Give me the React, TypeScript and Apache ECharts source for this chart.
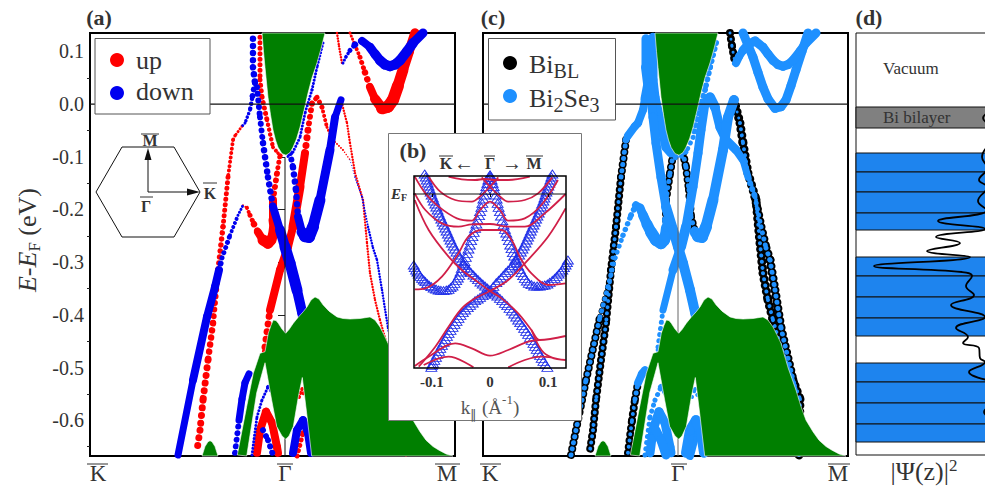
import React, { useEffect, useRef } from "react";
import * as echarts from "echarts";

const SERIF = "Liberation Serif";
const RED = "#ff0000";
const BLUE = "#0000f0";
const SKY = "#1e90ff";
const GREEN = "#007f00";
const CRIMSON = "#d01f48";
const INK = "#333333";

// Rows: [k, E (eV), width in (a), black width in (c), blue width in (c)]
type Row = number[];
const upBands: Row[][] = [
  [[-42,-.192,2,0,8],[-38,-.197,4,0,9],[-35,-.211,5,0,10],[-31,-.228,6.5,0,11],[-27,-.243,8,0,12],[-22,-.258,11,0,12],[-17,-.264,11,0,12],[-14,-.258,10,0,12],[-12,-.249,10,0,12],[-11,-.235,9,0,8],[-12,-.220,8,8,5],[-12,-.182,6,8,5],[-8,-.131,5,8,5],[-5,-.097,4,8,4],[-2,-.098,3,8,4]],
  [[-43,-.042,3,0,8],[-50,-.060,3.5,2,7],[-52,-.068,4,8,5],[-57,-.139,5,8,4],[-62,-.233,5.5,8,4],[-67,-.315,6,8,4],[-72,-.416,6.5,8,4],[-77,-.486,7,8,4],[-82,-.562,7,8,4],[-85,-.619,7,8,4],[-88,-.657,7,8,4]],
  [[-25,.127,5,0,9],[-25,.046,5,0,9],[-23,.013,5,0,9],[-18,-.030,4.5,0,9],[-12,-.082,4,0,9],[-7,-.093,3.5,0,6],[-2,-.101,3,0,4]],
  [[52,.135,2.5,8,3],[54,.110,2.5,8,3],[57,.078,2.5,8,3]],
  [[65,.135,3,0,9],[70,.112,4,0,9],[75,.089,5,0,9],[80,.060,6.5,0,9],[85,.032,8,0,9],[90,.010,10,0,9],[97,-.008,12,0,9],[103,-.005,12,0,9],[108,.008,12,0,9],[113,.035,11,0,9],[118,.065,10,0,9],[124,.100,9.5,0,9],[130,.135,9,0,9]],
  [[56,.008,2.4,9,3],[62,-.036,2.4,9,4],[65,-.074,2.4,9,4],[70,-.131,2.4,9,4],[78,-.182,2.4,9,4],[82,-.264,2.4,9,4],[85,-.321,2.4,9,4],[90,-.372,2.4,9,4],[95,-.410,2.4,9,4],[102,-.457,2.4,9,4],[122,-.560,2.4,9,4],[121,-.668,2.4,7,0]],
  [[-22,-.490,5,0,4],[-20,-.461,7,0,5],[-15,-.391,8,0,7],[-5,-.315,8,0,9],[3,-.271,8,0,10],[8,-.233,9,0,9],[15,-.157,8,0,9],[20,-.093,7,0,9],[23,-.049,6,0,9],[27,.002,5,0,9],[32,.013,5,0,10],[37,-.006,4,0,9],[42,-.044,3,0,9],[48,-.068,2,0,9],[58,-.087,1.5,0,8],[65,-.106,1.2,0,7]],
  [[-28,-.662,8,0,9],[-25,-.619,8,0,9],[-19,-.584,8,0,9],[-13,-.605,8,0,9],[-8,-.651,8,0,9],[-7,-.662,8,0,9]],
  [[12,-.668,5,0,8],[18,-.624,5,0,8],[20,-.609,5,0,8]],
  [[14,-.556,4,0,4],[17,-.541,4,0,4],[20,-.556,4,0,4]],
];
const downBands: Row[][] = [
  [[-107,-.666,7,8,5],[-92,-.524,8,8,5],[-78,-.404,8,6,5],[-70,-.347,8,0,5],[-66,-.315,6,0,5],[-63,-.292,5,0,5],[-55,-.249,4,0,5.5],[-47,-.211,3,0,6],[-42,-.192,2,0,8]],
  [[-30,.040,6,0,9],[-33,.010,4.5,0,8],[-35,-.011,3.5,0,8],[-40,-.036,3,0,8],[-43,-.042,2.5,0,8]],
  [[-32,.124,6.5,0,9],[-32,.070,6.5,0,10],[-30,.040,6.5,0,10]],
  [[-30,.040,5.5,0,9],[-28,.032,6,0,9],[-25,-.025,6,0,9],[-22,-.074,6.5,0,9],[-17,-.139,6.5,0,9],[-12,-.195,8,0,10],[-5,-.239,10,0,10],[0,-.271,11,0,10],[5,-.302,11,0,10],[12,-.353,10,0,10],[17,-.395,10,0,10],[20,-.419,8,0,8]],
  [[38,.116,3,0,6],[32,.070,3,0,6],[27,.027,3,0,6],[20,-.017,3,0,6],[15,-.063,3,0,5],[8,-.091,3,0,5],[2,-.101,3,0,4]],
  [[5,-.093,6,8,5],[8,-.120,6.5,8,5],[11,-.163,6.5,8,5],[13,-.214,8,8,5],[17,-.243,11,0,11],[20,-.251,12,0,12],[24,-.252,12,0,12],[28,-.233,11,0,11],[35,-.182,9,0,10],[45,-.087,8,0,10],[50,-.025,7,0,10],[56,.008,6,0,9]],
  [[58,.078,3,0,8],[61,.090,3.5,0,8],[65,.102,5,0,9],[70,.113,6.5,0,9],[77,.120,8,0,9],[85,.108,9,0,9],[90,.095,9.5,0,9],[95,.083,10,0,9],[100,.075,10,0,9],[105,.072,10,0,9],[110,.075,10,0,9],[115,.083,10,0,9],[122,.100,10,0,9],[128,.116,9,0,9],[138,.135,9,0,9]],
  [[65,-.106,1,0,7],[70,-.139,1.5,5,6],[77,-.176,2,9,5],[83,-.233,2.5,9,5],[88,-.273,2.5,9,5],[92,-.296,2.5,9,5],[97,-.353,2.5,9,5],[103,-.425,2.5,9,5],[117,-.540,2.5,9,5]],
  [[-50,-.662,6,8,4],[-46,-.600,7,8,4],[-43,-.560,7,8,5],[-40,-.529,7,0,8],[-36,-.512,6,0,8],[-33,-.505,5,0,7]],
  [[-33,-.666,3,0,5],[-28,-.594,3,0,5],[-23,-.562,3,0,5],[-17,-.537,4,0,6],[-12,-.548,5,0,6]],
  [[-22,-.619,6,0,9],[-17,-.638,6,0,9],[-12,-.666,6,0,9]],
  [[8,-.662,8,0,10],[12,-.619,8,0,10],[18,-.600,8,0,10],[23,-.624,8,0,10],[26,-.662,8,0,10]],
];
const bowl = [[-23,.135],[-21.5,.100],[-20,.070],[-17,.013],[-14.5,-.020],[-12,-.049],[-9.5,-.068],[-7,-.082],[-3,-.094],[1,-.097],[5,-.092],[8,-.082],[11.5,-.066],[15,-.044],[19,-.012],[23,.021],[27,.050],[32,.078],[36,.105],[40,.135]];
const valence = [[-47.7,-.666],[-38.3,-.574],[-31.7,-.511],[-25,-.473],[-20,-.470],[-16.7,-.435],[-14,-.420],[-11.7,-.410],[-9,-.411],[-6.7,-.416],[-3,-.427],[.7,-.435],[4,-.428],[8.3,-.416],[13,-.405],[18.3,-.394],[22,-.385],[26,-.372],[30,-.366],[34,-.370],[38,-.381],[44,-.393],[52,-.404],[58,-.407],[65,-.408],[75,-.407],[85,-.404],[90,-.410],[95,-.423],[99,-.438],[103,-.454],[110,-.500],[118,-.543],[123,-.574],[128,-.600],[135,-.622],[141,-.638],[148,-.650],[154,-.657],[161,-.664],[168,-.668],[26.7,-.668],[21.7,-.587],[17.3,-.519],[13.3,-.556],[8.3,-.612],[4,-.630],[.7,-.636],[-3,-.630],[-8.3,-.612],[-13.3,-.562],[-20,-.491],[-28.3,-.548],[-38.3,-.668]];
const hump = [[-83,-.668],[-80,-.650],[-77,-.641],[-75,-.639],[-73,-.641],[-70,-.650],[-67,-.668]];
const energyTicks = [.1,0,-.1,-.2,-.3,-.4,-.5,-.6];
const energyMinor = [.05,-.05,-.15,-.25,-.35,-.45,-.55,-.65];

// Inset, read as [k * 1750, E * 1500]
const insetTriangles: number[][][] = [
  [[-197,60],[-194,51],[-191,42],[-188,33],[-185,24],[-182,15],[-179,6],[-176,-3],[-172,-12],[-169,-21],[-165,-30],[-162,-39],[-158,-48],[-155,-57],[-151,-66],[-147,-75],[-143,-84],[-139,-93],[-135,-102],[-131,-111],[-127,-120],[-123,-129],[-119,-138],[-115,-147],[-110,-156],[-106,-165],[-101,-174],[-96,-183],[-91,-192],[-86,-200],[-81,-208],[-75,-215],[-69,-222],[-63,-229],[-57,-236],[-50,-243],[-43,-250],[-36,-257],[-29,-264],[-22,-270],[-15,-276],[-8,-282],[0,-288],[8,-294],[15,-300],[22,-306],[30,-313],[37,-320],[45,-328],[52,-335],[59,-343],[66,-351],[73,-360],[79,-369],[85,-378],[91,-386],[97,-395],[103,-403],[109,-412],[115,-421],[121,-430],[126,-439],[131,-448],[136,-457],[141,-466],[146,-475],[151,-484],[156,-493],[161,-502],[167,-511],[173,-520]],
  [[188,60],[185,51],[182,42],[179,33],[176,24],[173,15],[170,6],[167,-3],[164,-12],[161,-21],[157,-30],[154,-39],[150,-48],[147,-57],[143,-66],[139,-75],[135,-84],[131,-93],[127,-102],[123,-111],[119,-120],[115,-129],[111,-138],[107,-147],[102,-156],[98,-165],[93,-174],[88,-183],[83,-192],[78,-200],[73,-208],[67,-215],[61,-222],[54,-229],[47,-236],[40,-244],[33,-252],[26,-259],[19,-266],[10,-277],[0,-288],[-8,-294],[-15,-300],[-22,-305],[-30,-310],[-37,-315],[-45,-320],[-52,-327],[-60,-334],[-67,-341],[-75,-348],[-82,-356],[-89,-364],[-95,-373],[-101,-382],[-107,-391],[-113,-400],[-119,-409],[-125,-418],[-130,-427],[-135,-436],[-140,-445],[-145,-454],[-150,-463],[-154,-472],[-159,-481],[-163,-490],[-168,-499],[-172,-508],[-175,-514],[-177,-520]],
  [[-230,-213],[-227,-221],[-223,-228],[-219,-234],[-215,-240],[-210,-247],[-205,-253],[-200,-258],[-195,-263],[-189,-269],[-183,-274],[-177,-278],[-170,-282],[-163,-285],[-155,-288],[-148,-289],[-140,-290],[-132,-288],[-125,-286],[-119,-281],[-113,-276],[-107,-268],[-102,-260],[-97,-252],[-93,-244],[-89,-234],[-85,-223],[-81,-213],[-77,-203],[-73,-190],[-69,-178],[-65,-165],[-61,-153],[-57,-140],[-53,-128],[-49,-115],[-45,-103],[-41,-90],[-37,-78],[-33,-65],[-30,-53],[-26,-40],[-23,-28],[-20,-15],[-17,-3],[-14,10],[-11,22],[-8,32],[-5,42],[-2,50],[0,57]],
  [[235,-198],[232,-206],[228,-213],[223,-221],[218,-228],[213,-234],[207,-240],[201,-247],[195,-253],[188,-259],[180,-265],[173,-270],[165,-273],[158,-275],[150,-276],[142,-276],[133,-276],[125,-272],[117,-268],[111,-261],[105,-253],[100,-245],[95,-236],[90,-226],[85,-216],[81,-206],[77,-196],[73,-186],[69,-176],[65,-164],[61,-153],[57,-140],[53,-128],[49,-117],[45,-106],[41,-93],[37,-80],[33,-66],[30,-53],[26,-40],[23,-28],[20,-15],[17,-3],[14,10],[11,22],[8,32],[5,42],[2,50],[0,57]],
];
const insetLines: number[][][] = [
  [[-125,52],[-85,44],[-45,42],[-15,45],[15,42],[55,42],[120,52]],
  [[-185,52],[-150,7],[-105,-18],[-55,-23],[-25,-3],[0,22],[25,50]],
  [[188,50],[145,2],[105,-18],[55,-23],[25,-3],[0,22],[-25,50]],
  [[-227,52],[-195,2],[-155,-38],[-100,-73],[-55,-80],[-30,-48],[0,-23],[30,-48],[55,-80],[105,-73],[155,-33],[205,42]],
  [[-227,2],[-195,-48],[-145,-88],[-95,-98],[-55,-91],[0,-90],[55,-98],[105,-98],[165,-58],[228,0]],
  [[-227,-286],[-195,-283],[-145,-248],[-95,-178],[-65,-128],[-25,-108],[35,-108],[65,-138],[95,-198],[125,-238],[175,-273],[228,-268]],
  [[-227,-18],[-185,-108],[-125,-188],[-85,-228],[-45,-258],[0,-291],[35,-313],[85,-358],[125,-408],[150,-438],[228,-426]],
  [[228,-43],[175,-128],[105,-208],[55,-258],[0,-291],[-45,-313],[-85,-343],[-125,-398],[-165,-458],[-215,-518]],
  [[125,-408],[155,-468],[185,-490],[228,-498]],
  [[-227,-516],[-185,-488],[-105,-448],[-55,-463],[0,-485],[55,-468],[115,-443],[150,-438]],
  [[-200,-513],[-125,-488],[-50,-520]],
  [[55,-520],[105,-498],[155,-488],[185,-490]],
];
const insetTicks = [-.1,0,.1];

// Panel (d): depth below the top of the slab, and |psi|^2 measured from the left
const greyLayer = [[74,95]];
const quintupleLayers = [[120,139],[139,159],[159,180],[180,197],[224,243],[243,264],[264,285],[285,303],[330,349],[349,370],[370,391],[391,409]];
const waveMain = [[131,114],[126,124],[131,135],[123,147],[131,154],[122,168],[131,177],[82,188],[129,196],[80,204],[104,210],[71,218],[114,224],[18,233],[106,239],[116,243],[110,253],[118,262],[95,272],[129,284],[100,295],[112,304],[107,310],[123,315],[124,325],[129,329],[113,339],[131,347]];
const waveTop = [[131,80],[127,85],[131,90]];
const waveLow = [[131,375],[128,379],[131,383]];

const toInset = (p: number[]) => [p[0] / 1750, p[1] / 1500];

function bandSeries(name: string, bands: Row[][], col: number, color: string, axis: number, gapOf: (w: number) => number) {
  const segs: number[][] = [];
  bands.forEach((b) => {
    for (let i = 0; i < b.length - 1; i++) {
      if (b[i][col] > 0) segs.push([b[i][0], b[i][1], b[i + 1][0], b[i + 1][1], b[i][col]]);
    }
  });
  return {
    type: "custom", name, coordinateSystem: "cartesian2d", xAxisIndex: axis, yAxisIndex: axis === 0 ? 0 : 2,
    z: 2, silent: true, clip: false, data: segs, encode: { x: [0, 2], y: [1, 3] },
    renderItem: (_p: any, api: any) => {
      const a = api.coord([api.value(0), api.value(1)]);
      const b = api.coord([api.value(2), api.value(3)]);
      const w = api.value(4);
      const gap = gapOf(w);
      return {
        type: "line",
        shape: { x1: a[0], y1: a[1], x2: b[0], y2: b[1] },
        style: { stroke: color, lineWidth: w, lineCap: "round", lineDash: gap > 0 ? [0.01, gap] : null, fill: null },
      };
    },
  };
}
function polySeries(points: number[][], axis: number) {
  return {
    type: "custom", coordinateSystem: "cartesian2d", xAxisIndex: axis, yAxisIndex: axis === 0 ? 0 : 2,
    z: 3, silent: true, clip: false, data: points, encode: { x: 0, y: 1 },
    renderItem: (p: any, api: any) =>
      p.dataIndex === 0
        ? { type: "polygon", shape: { points: points.map((q) => api.coord(q)) }, style: { fill: GREEN, stroke: "#ffffff", lineWidth: 0.6 } }
        : null,
  };
}
function refLine(points: number[][], axis: number, color: string, w: number, z: number, yAxisIndex?: number) {
  return {
    type: "line", xAxisIndex: axis, yAxisIndex: yAxisIndex ?? (axis === 0 ? 0 : 2), data: points, z, silent: true, clip: false,
    symbol: "none", lineStyle: { color, width: w },
  };
}
const layerSeries = (rows: number[][], fill: string) => ({
  type: "custom", coordinateSystem: "cartesian2d", xAxisIndex: 3, yAxisIndex: 4, z: 2, silent: true, data: rows, encode: { y: [0, 1] },
  renderItem: (_p: any, api: any) => {
    const a = api.coord([0, api.value(0)]);
    const b = api.coord([145, api.value(1)]);
    return { type: "rect", shape: { x: a[0], y: a[1], width: b[0] - a[0], height: b[1] - a[1] }, style: { fill, stroke: "#111111", lineWidth: 1 } };
  },
});
const waveSeries = (pts: number[][]) => ({
  type: "line", xAxisIndex: 3, yAxisIndex: 4, data: pts, z: 4, silent: true, symbol: "none", smooth: 0.45,
  lineStyle: { color: "#000000", width: 1.8 },
});

const T = (x: number, y: number, text: string, o: any = {}) => ({
  type: "text", x, y, z: o.z ?? 6, silent: true,
  style: { text, fontFamily: SERIF, fontSize: o.size ?? 20, fontWeight: o.weight ?? "normal", fontStyle: o.italic ? "italic" : "normal", fill: o.fill ?? INK, align: o.align ?? "center", verticalAlign: "middle", rich: o.rich },
});
const L = (x1: number, y1: number, x2: number, y2: number, o: any = {}) => ({
  type: "line", z: o.z ?? 6, silent: true, shape: { x1, y1, x2, y2 }, style: { stroke: o.color ?? INK, lineWidth: o.w ?? 1 },
});

const graphics: any[] = [
  T(99, 17, "(a)", { size: 22, weight: "bold" }),
  T(493, 17, "(c)", { size: 22, weight: "bold" }),
  T(869, 17, "(d)", { size: 22, weight: "bold" }),
  // legend (a)
  { type: "rect", z: 5, silent: true, shape: { x: 95, y: 38.5, width: 115, height: 75.5 }, style: { fill: "#fff", stroke: "#555", lineWidth: 1 } },
  { type: "circle", z: 6, silent: true, shape: { cx: 117, cy: 60, r: 7 }, style: { fill: RED } },
  { type: "circle", z: 6, silent: true, shape: { cx: 117, cy: 93, r: 7 }, style: { fill: BLUE } },
  T(136, 60, "up", { size: 26, align: "left" }),
  T(136, 91, "down", { size: 26, align: "left" }),
  // Brillouin zone
  { type: "polygon", z: 6, silent: true, shape: { points: [[122,147],[174,147],[200,192],[174,237],[122,237],[96,192]] }, style: { fill: "none", stroke: "#111", lineWidth: 1 } },
  L(148, 192, 148, 158, { color: "#111" }),
  L(148, 192, 189, 192, { color: "#111" }),
  { type: "polygon", z: 6, silent: true, shape: { points: [[148,148],[144.5,160],[151.5,160]] }, style: { fill: "#111" } },
  { type: "polygon", z: 6, silent: true, shape: { points: [[200,192],[187,188.5],[187,195.5]] }, style: { fill: "#111" } },
  T(150, 140, "M", { size: 16, weight: "bold" }), L(141, 134, 159, 134),
  T(210, 193, "K", { size: 16, weight: "bold" }), L(203, 183, 217, 183),
  T(146, 206, "Γ", { size: 16, weight: "bold" }), L(140, 197, 153, 197),
  // bottom overlines
  L(87, 464, 108, 464), L(277, 464, 293, 464), L(435, 464, 460, 464),
  L(480, 464, 501, 464), L(671, 464, 687, 464), L(828, 464, 850, 464),
  // legend (c)
  { type: "rect", z: 5, silent: true, shape: { x: 488.5, y: 38.5, width: 127, height: 81.5 }, style: { fill: "#fff", stroke: "#555", lineWidth: 1 } },
  { type: "circle", z: 6, silent: true, shape: { cx: 510, cy: 63, r: 7 }, style: { fill: "#000" } },
  { type: "circle", z: 6, silent: true, shape: { cx: 510, cy: 96, r: 7 }, style: { fill: SKY } },
  T(529, 64, "{m|Bi}{s|BL}", { align: "left", rich: { m: { fontFamily: SERIF, fontSize: 26, fill: INK, lineHeight: 34 }, s: { fontFamily: SERIF, fontSize: 20, fill: INK, verticalAlign: "bottom", lineHeight: 34 } } }),
  T(529, 98, "{m|Bi}{s|2}{m|Se}{s|3}", { align: "left", rich: { m: { fontFamily: SERIF, fontSize: 26, fill: INK, lineHeight: 34 }, s: { fontFamily: SERIF, fontSize: 20, fill: INK, verticalAlign: "bottom", lineHeight: 34 } } }),
  // inset
  { type: "rect", z: 10, silent: true, shape: { x: 388.5, y: 133.5, width: 193, height: 287 }, style: { fill: "#fff", stroke: "#777", lineWidth: 1 } },
  T(413, 150, "(b)", { size: 22, weight: "bold", z: 14 }),
  T(446, 163, "K", { size: 16, weight: "bold", z: 14 }), L(439, 156, 453, 156, { z: 14 }),
  T(464, 163, "←", { size: 20, z: 14 }),
  T(490, 163, "Γ", { size: 16, weight: "bold", z: 14 }), L(484, 156, 495, 156, { z: 14 }),
  T(512, 163, "→", { size: 20, z: 14 }),
  T(534, 163, "M", { size: 16, weight: "bold", z: 14 }), L(526, 156, 543, 156, { z: 14 }),
  T(399, 194, "{i|E}{s|F}", { z: 14, rich: { i: { fontFamily: SERIF, fontSize: 15, fontStyle: "italic", fontWeight: "bold", fill: INK, lineHeight: 16 }, s: { fontFamily: SERIF, fontSize: 10, fontWeight: "bold", fill: INK, verticalAlign: "bottom", lineHeight: 16 } } }),
  T(490, 407, "{m|k}{s|∥}{m| (Å}{u|-1}{m|)}", { z: 14, rich: { m: { fontFamily: SERIF, fontSize: 19, fill: "#555", lineHeight: 28 }, s: { fontFamily: SERIF, fontSize: 13, fill: "#555", verticalAlign: "bottom", lineHeight: 28 }, u: { fontFamily: SERIF, fontSize: 13, fill: "#555", verticalAlign: "top", lineHeight: 28 } } }),
  // panel (d)
  T(883, 68, "Vacuum", { size: 17, align: "left" }),
  T(883, 117, "Bi bilayer", { size: 17, align: "left" }),
  T(924, 471, "{m||Ψ(z)|}{u|2}", { rich: { m: { fontFamily: SERIF, fontSize: 26, fill: INK, lineHeight: 28 }, u: { fontFamily: SERIF, fontSize: 17, fill: INK, verticalAlign: "top", lineHeight: 28 } } }),
];

const hideAxis = { axisLine: { show: false }, axisTick: { show: false }, axisLabel: { show: false }, splitLine: { show: false } };
const kAxis = (gridIndex: number, custom: number[], names: string[]) => ({
  type: "value", gridIndex, min: -195, max: 170, axisLine: { show: false }, axisTick: { show: false }, splitLine: { show: false },
  axisLabel: { show: true, customValues: custom, margin: 8, lineHeight: 19, fontFamily: SERIF, fontSize: 23, color: INK, formatter: (v: number) => names[custom.indexOf(v)] ?? "" },
});
const eRange = { min: -0.668, max: 0.135 };
const gridBase = { show: true, backgroundColor: "transparent", outerBoundsMode: "none" };

const option: any = {
  animation: false,
  backgroundColor: "#ffffff",
  grid: [
    { ...gridBase, left: 90, top: 33, width: 365, height: 423, borderColor: "#000", borderWidth: 2 },
    { ...gridBase, left: 483, top: 33, width: 365, height: 423, borderColor: "#000", borderWidth: 2 },
    { ...gridBase, left: 414, top: 176, width: 152, height: 192, borderColor: "#000", borderWidth: 1.5, z: 13 },
    { ...gridBase, left: 856, top: 33, width: 145, height: 422, borderColor: "#111", borderWidth: 1 },
  ],
  xAxis: [
    kAxis(0, [-187, 0, 162], ["K", "Γ", "M"]),
    kAxis(1, [-188, 0, 160], ["K", "Γ", "M"]),
    {
      type: "value", gridIndex: 2, min: -0.131, max: 0.131, z: 14, splitLine: { show: false }, axisLine: { show: false },
      axisTick: { show: true, customValues: insetTicks, length: 3, lineStyle: { color: "#000" } },
      axisLabel: { show: true, customValues: insetTicks, margin: 6, fontFamily: SERIF, fontSize: 15, fontWeight: "bold", color: INK, formatter: (v: number) => (v === 0 ? "0" : v.toFixed(1)) },
    },
    { type: "value", gridIndex: 3, min: 0, max: 145, ...hideAxis },
  ],
  yAxis: [
    {
      type: "value", gridIndex: 0, ...eRange, position: "left", splitLine: { show: false },
      axisLine: { show: false },
      axisTick: { show: true, customValues: energyTicks, length: 7, lineStyle: { color: "#222", width: 1 } },
      axisLabel: { show: true, customValues: energyTicks, margin: 6, fontFamily: SERIF, fontSize: 20, color: INK, formatter: (v: number) => v.toFixed(1) },
      name: "{i|E}{m|-}{i|E}{s|F}{m| (eV)}", nameLocation: "middle", nameGap: 47, nameRotate: 90,
      nameTextStyle: { padding: [0, 0, 0, 9], rich: { m: { fontFamily: SERIF, fontSize: 26, color: INK, lineHeight: 32 }, i: { fontFamily: SERIF, fontSize: 26, fontStyle: "italic", color: INK, lineHeight: 32 }, s: { fontFamily: SERIF, fontSize: 17, color: INK, verticalAlign: "bottom", lineHeight: 32 } } },
    },
    {
      type: "value", gridIndex: 0, ...eRange, position: "left", splitLine: { show: false }, axisLine: { show: false },
      axisTick: { show: true, customValues: energyMinor, length: 3, lineStyle: { color: "#222", width: 1 } }, axisLabel: { show: false },
    },
    { type: "value", gridIndex: 1, ...eRange, ...hideAxis },
    { type: "value", gridIndex: 2, min: -0.348, max: 0.036, ...hideAxis },
    { type: "value", gridIndex: 3, min: 0, max: 422, inverse: true, ...hideAxis },
  ],
  series: [
    // (a)
    refLine([[0, -0.101], [0, -0.668]], 0, "#111", 1, 2),
    bandSeries("up", upBands, 2, RED, 0, (w) => (w >= 7.5 ? 0 : Math.max(w * 1.1, 2.8))),
    bandSeries("down", downBands, 2, BLUE, 0, (w) => (w >= 7 ? 0 : Math.max(w * 1.1, 2.8))),
    polySeries(bowl, 0), polySeries(valence, 0), polySeries(hump, 0),
    refLine([[-195, 0], [170, 0]], 0, "#111", 1.2, 4),
    // (c)
    refLine([[0, -0.101], [0, -0.668]], 1, "#666", 1, 2),
    bandSeries("BiBL up", upBands, 3, "#000", 1, () => 6.2),
    bandSeries("BiBL down", downBands, 3, "#000", 1, () => 6.2),
    bandSeries("Bi2Se3 up", upBands, 4, SKY, 1, (w) => (w >= 7 ? 0 : 6.2)),
    bandSeries("Bi2Se3 down", downBands, 4, SKY, 1, (w) => (w >= 7 ? 0 : 6.2)),
    polySeries(bowl, 1), polySeries(valence, 1), polySeries(hump, 1),
    refLine([[-195, 0], [170, 0]], 1, "#111", 1.2, 4),
    // (b)
    ...insetTriangles.map((c) => ({
      type: "scatter", xAxisIndex: 2, yAxisIndex: 3, z: 11, silent: true, clip: false, symbol: "triangle", symbolSize: [11, 8],
      data: c.map(toInset), itemStyle: { color: "rgba(255,255,255,0)", borderColor: "#2030e8", borderWidth: 0.9, opacity: 1 },
    })),
    ...insetLines.map((c) => ({
      type: "line", xAxisIndex: 2, yAxisIndex: 3, z: 12, silent: true, symbol: "none", smooth: 0.35,
      data: c.map(toInset), lineStyle: { color: CRIMSON, width: 1.8 },
    })),
    { ...refLine([[-0.14, 0], [0.131, 0]], 2, "#111", 1.2, 12, 3) },
    // (d)
    layerSeries(greyLayer, "#808080"),
    layerSeries(quintupleLayers, "#1e84ee"),
    waveSeries(waveMain), waveSeries(waveTop), waveSeries(waveLow),
  ],
  graphic: { elements: graphics },
};

export default function App() {
  const ref = useRef<HTMLDivElement>(null);
  useEffect(() => {
    const chart = echarts.init(ref.current!, null, { renderer: "svg" });
    chart.setOption(option);
    return () => chart.dispose();
  }, []);
  return <div ref={ref} style={{ position: "absolute", left: 0, top: 0, width: 985, height: 487 }} />;
}
